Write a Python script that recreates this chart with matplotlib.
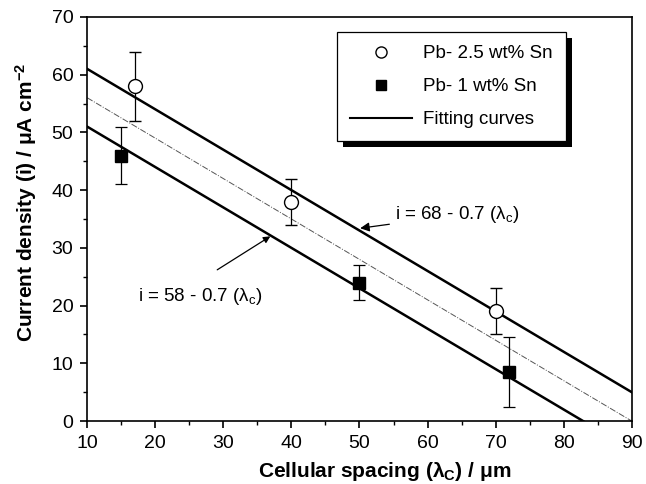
import matplotlib
matplotlib.use("Agg")
import matplotlib.pyplot as plt
import numpy as np
from matplotlib.lines import Line2D
from matplotlib.patches import Rectangle
from matplotlib.ticker import MultipleLocator

plt.rcParams["font.family"] = ["Liberation Sans", "DejaVu Sans"]
plt.rcParams["mathtext.default"] = "regular"

# Pb-2.5 wt% Sn
sn25_x = [17, 40, 70]
sn25_y = [58, 38, 19]
sn25_err = [6, 4, 4]

# Pb-1 wt% Sn
sn1_x = [15, 50, 72]
sn1_y = [46, 24, 8.5]
sn1_err = [5, 3, 6]

# fitted lines i = a - 0.7 * lambda_c
fit_upper = 68
fit_lower = 58
fit_mid = 63
fit_slope = -0.7

fig = plt.figure(figsize=(6.46, 4.84), dpi=100)
ax = fig.add_axes([0.135, 0.130, 0.843, 0.835])

xs = np.array([10, 90])
ax.plot(xs, fit_upper + fit_slope * xs, color="black", lw=1.8, zorder=2)
ax.plot(xs, fit_lower + fit_slope * xs, color="black", lw=1.8, zorder=2)
ax.plot(xs, fit_mid + fit_slope * xs, color="#555555", lw=0.7, ls="-.", zorder=2)

ax.errorbar(sn25_x, sn25_y, yerr=sn25_err, fmt="o", ms=10, mfc="white", mec="black",
            mew=1.0, ecolor="black", elinewidth=0.9, capsize=4, capthick=0.9, zorder=3)
ax.errorbar(sn1_x, sn1_y, yerr=sn1_err, fmt="s", ms=8.5, mfc="black", mec="black",
            ecolor="black", elinewidth=0.9, capsize=4, capthick=0.9, zorder=3)

ax.set_xlim(10, 90)
ax.set_ylim(0, 70)
ax.xaxis.set_major_locator(MultipleLocator(10))
ax.xaxis.set_minor_locator(MultipleLocator(5))
ax.yaxis.set_major_locator(MultipleLocator(10))
ax.yaxis.set_minor_locator(MultipleLocator(5))
ax.tick_params(which="major", direction="out", length=5, width=1.2, labelsize=14, pad=5)
ax.tick_params(which="minor", direction="out", length=3, width=1.0)
for s in ax.spines.values():
    s.set_linewidth(1.2)

ax.set_xlabel("Cellular spacing (λ$_C$) / μm", fontsize=15, fontweight="bold")
ax.set_ylabel("Current density (i) / μA cm$^{-2}$", fontsize=15, fontweight="bold")
ax.xaxis.set_label_coords(0.547, -0.097)
ax.yaxis.set_label_coords(-0.088, 0.54)

ax.annotate("i = 68 - 0.7 (λ$_c$)", xy=(50.1, 33.4), xytext=(55.2, 35.7),
            fontsize=13.5, va="center", ha="left",
            arrowprops=dict(arrowstyle="-|>", color="black", lw=0.9, shrinkA=2, shrinkB=0))
ax.annotate("", xy=(36.9, 32.0), xytext=(29.1, 26.2),
            arrowprops=dict(arrowstyle="-|>", color="black", lw=0.9, shrinkA=0, shrinkB=0))
ax.text(17.5, 21.5, "i = 58 - 0.7 (λ$_c$)", fontsize=13.5, ha="left", va="center")

handles = [
    Line2D([], [], ls="none", marker="o", ms=8, mfc="white", mec="black"),
    Line2D([], [], ls="none", marker="s", ms=7.5, mfc="black", mec="black"),
    Line2D([], [], color="black", lw=1.5),
]
labels = ["Pb- 2.5 wt% Sn", "Pb- 1 wt% Sn", "Fitting curves"]
leg = ax.legend(handles, labels, loc="upper left", bbox_to_anchor=(0.459, 0.963),
                fontsize=13.5, frameon=True, fancybox=False, edgecolor="black",
                facecolor="white", framealpha=1,
                handlelength=3.3, labelspacing=0.85, borderpad=0.7, handletextpad=0.6,
                borderaxespad=0)
leg.get_frame().set_linewidth(0.9)
leg.set_zorder(5)

fig.canvas.draw()
bb = leg.get_window_extent()
shadow = Rectangle((bb.x0 + 6, bb.y0 - 6), bb.width, bb.height, transform=None,
                   facecolor="black", edgecolor="none", zorder=4)
ax.add_artist(shadow)

fig.savefig("out.png", dpi=100)
